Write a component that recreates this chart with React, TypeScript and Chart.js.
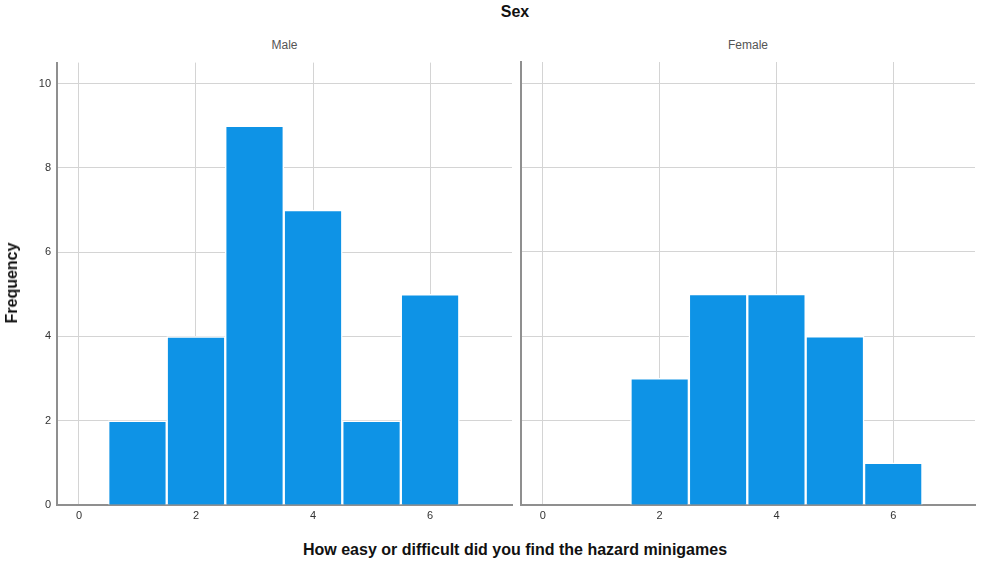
import React, { useEffect, useRef } from "react";
import { Chart, registerables } from "chart.js";

Chart.register(...registerables);

const bins = [1, 2, 3, 4, 5, 6];
const maleCounts = [2, 4, 9, 7, 2, 5];
const femaleCounts = [0, 3, 5, 5, 4, 1];
const xTicks = [0, 2, 4, 6];
const yTicks = [0, 2, 4, 6, 8, 10];
const panelLabels = ["Male", "Female"];
const facetTitle = "Sex";
const yTitle = "Frequency";
const xTitle = "How easy or difficult did you find the hazard minigames";

const FONT = "'Liberation Sans', Arial, sans-serif";
const BAR = "#0e93e6";
const GRID = "#d4d4d4";
const AXIS = "#8f8f8f";

function makeConfig(counts: number[], showY: boolean, yWidth: number, padRight: number, padTop: number): any {
  return {
    type: "bar",
    data: {
      datasets: [
        {
          data: bins.map((b, i) => ({ x: b, y: counts[i] })),
          backgroundColor: BAR,
          borderColor: "#ffffff",
          borderWidth: 1.5,
          borderSkipped: "bottom",
          barPercentage: 1,
          categoryPercentage: 1,
        },
      ],
    },
    options: {
      responsive: false,
      animation: false,
      events: [],
      layout: { padding: { top: padTop, right: padRight, left: 0, bottom: 0 } },
      plugins: { legend: { display: false }, tooltip: { enabled: false }, title: { display: false } },
      scales: {
        x: {
          type: "linear",
          offset: false,
          min: -0.375,
          max: 7.4,
          afterFit: (s: any) => { s.height = 25; },
          afterBuildTicks: (s: any) => { s.ticks = xTicks.map((v) => ({ value: v })); },
          ticks: { includeBounds: false, color: "#333", font: { family: FONT, size: 11 }, padding: 4 },
          grid: { color: GRID, lineWidth: 1, drawTicks: false, offset: false },
          border: { color: AXIS, width: 2 },
        },
        y: {
          min: 0,
          max: 10.5,
          afterFit: (s: any) => { s.width = yWidth; },
          afterBuildTicks: (s: any) => { s.ticks = yTicks.map((v) => ({ value: v })); },
          ticks: { display: showY, includeBounds: false, color: "#333", font: { family: FONT, size: 11 }, padding: 6 },
          grid: { color: GRID, lineWidth: 1, drawTicks: false },
          border: { color: AXIS, width: 2 },
        },
      },
    },
  };
}

function Panel(props: { counts: number[]; showY: boolean; yWidth: number; padRight: number; padTop: number; left: number; top: number; width: number; height: number }) {
  const ref = useRef<HTMLCanvasElement | null>(null);
  useEffect(() => {
    if (!ref.current) return;
    const chart = new Chart(ref.current, makeConfig(props.counts, props.showY, props.yWidth, props.padRight, props.padTop));
    return () => chart.destroy();
  }, []);
  return (
    <canvas
      ref={ref}
      width={props.width}
      height={props.height}
      style={{ position: "absolute", left: props.left, top: props.top, width: props.width, height: props.height }}
    />
  );
}

export default function App() {
  const textBase: React.CSSProperties = { position: "absolute", fontFamily: FONT, whiteSpace: "nowrap" };
  return (
    <div style={{ position: "fixed", left: 0, top: 0, width: 982, height: 567, background: "#fff", overflow: "hidden" }}>
      <div style={{ ...textBase, left: 0, width: 982, top: 3, textAlign: "center", fontWeight: "bold", fontSize: 16, color: "#111", paddingLeft: 48, boxSizing: "border-box" }}>
        {facetTitle}
      </div>
      <div style={{ ...textBase, left: 57, width: 455, top: 38, textAlign: "center", fontSize: 12, color: "#555" }}>{panelLabels[0]}</div>
      <div style={{ ...textBase, left: 521, width: 454, top: 38, textAlign: "center", fontSize: 12, color: "#555" }}>{panelLabels[1]}</div>
      <Panel counts={maleCounts} showY={true} yWidth={57} padRight={3} padTop={2} left={0} top={50} width={515} height={480} />
      <Panel counts={femaleCounts} showY={false} yWidth={6} padRight={7} padTop={7} left={515} top={55} width={467} height={475} />
      <div
        style={{
          ...textBase,
          left: 12,
          top: 283,
          fontWeight: "bold",
          fontSize: 16,
          color: "#111",
          transform: "translate(-50%, -50%) rotate(-90deg)",
        }}
      >
        {yTitle}
      </div>
      <div style={{ ...textBase, left: 0, width: 982, top: 541, textAlign: "center", fontWeight: "bold", fontSize: 16, color: "#111", paddingLeft: 48, boxSizing: "border-box" }}>
        {xTitle}
      </div>
    </div>
  );
}
